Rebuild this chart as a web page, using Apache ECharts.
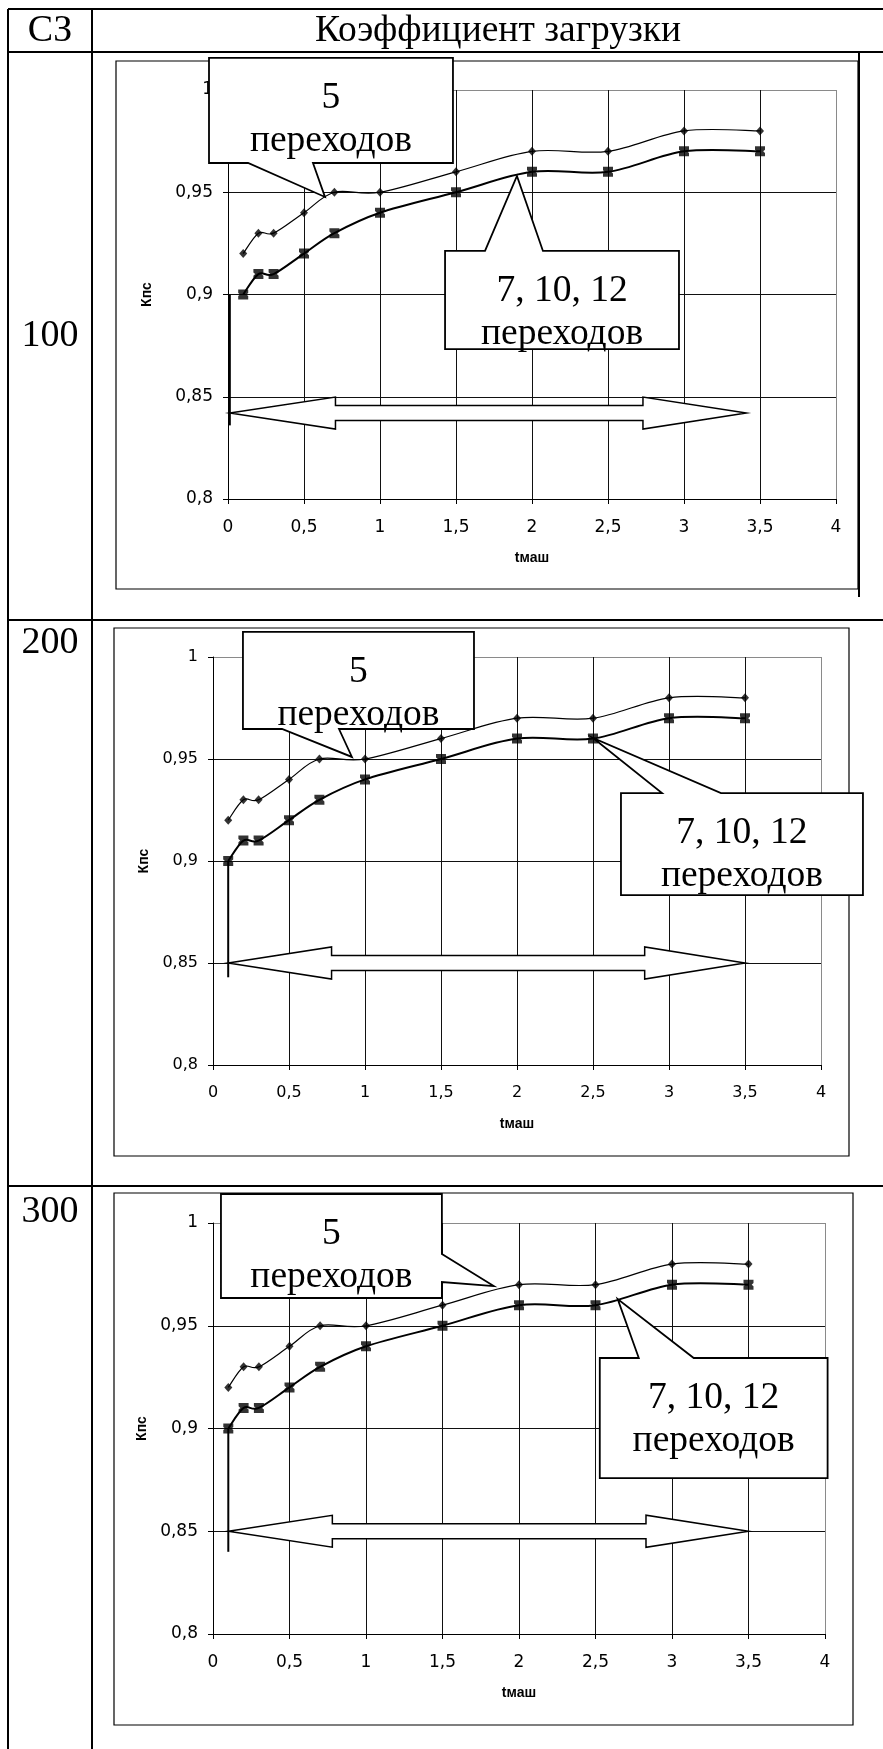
<!DOCTYPE html>
<html>
<head>
<meta charset="utf-8">
<script src="https://cdn.jsdelivr.net/npm/echarts@6/dist/echarts.min.js"></script>
<style>
  html, body { margin: 0; padding: 0; background: #fff; }
  #c { width: 883px; height: 1749px; }
</style>
</head>
<body>
<div id="c"></div>
<script>
// ---- data ----
const tValues = [0.1, 0.2, 0.3, 0.5, 0.7, 1, 1.5, 2, 2.5, 3, 3.5];
const k5 = [0.92, 0.93, 0.93, 0.94, 0.95, 0.95, 0.96, 0.97, 0.97, 0.98, 0.98];
const k7_10_12 = [0.90, 0.91, 0.91, 0.92, 0.93, 0.94, 0.95, 0.96, 0.96, 0.97, 0.97];
const rowLabels = ['100', '200', '300'];
const headerLabels = ['СЗ', 'Коэффициент загрузки'];
const xTickLabels = ['0', '0,5', '1', '1,5', '2', '2,5', '3', '3,5', '4'];
const yTickLabels = ['0,8', '0,85', '0,9', '0,95', '1'];
const calloutText5 = ['5', 'переходов'];
const calloutText7 = ['7, 10, 12', 'переходов'];

// ---- layout of the three panels (annotations are anchored in axis units) ----
const panels = [
  {
    grid: { left: 228, top: 90, width: 608, height: 409 },
    frame: [116, 61, 742, 528],
    labelSize: 17, yNameGap: 74,
    drop: [[0.012, 0.9], [0.012, 0.836]],
    arrow: [0.012, 0.842, 3.41, 0.707, 2.73],
    callouts: [
      { text: calloutText5, box: [-0.125, 1.0157, 1.48, 0.9643], edge: 'bottom', base: [0.132, 0.559], tip: [0.638, 0.9477] },
      { text: calloutText7, box: [1.428, 0.9213, 2.967, 0.8733], edge: 'top', base: [1.691, 2.072], tip: [1.901, 0.958] }
    ]
  },
  {
    grid: { left: 213, top: 657, width: 608, height: 408 },
    frame: [114, 628, 735, 528],
    labelSize: 16, yNameGap: 60,
    drop: [[0.1, 0.9], [0.1, 0.843]],
    arrow: [0.1, 0.85, 3.5, 0.78, 2.84],
    callouts: [
      { text: calloutText5, box: [0.197, 1.0123, 1.717, 0.9647], edge: 'bottom', base: [0.454, 0.829], tip: [0.914, 0.951] },
      { text: calloutText7, box: [2.684, 0.9333, 4.276, 0.8833], edge: 'top', base: [2.954, 3.342], tip: [2.5, 0.9603] }
    ]
  },
  {
    grid: { left: 213, top: 1223, width: 612, height: 411 },
    frame: [114, 1193, 739, 532],
    labelSize: 17, yNameGap: 63,
    drop: [[0.1, 0.9], [0.1, 0.84]],
    arrow: [0.1, 0.85, 3.5, 0.78, 2.83],
    callouts: [
      { text: calloutText5, box: [0.052, 1.0141, 1.496, 0.9635], edge: 'right', base: [0.9849, 0.9713], tip: [1.835, 0.9693] },
      { text: calloutText7, box: [2.528, 0.9343, 4.017, 0.8759], edge: 'top', base: [2.783, 3.142], tip: [2.645, 0.963] }
    ]
  }
];

const SERIF = '"Liberation Serif", "Times New Roman", serif';
const SANS = '"Liberation Sans", Arial, sans-serif';
const TICK_FONT = '"DejaVu Sans", Verdana, sans-serif';

// Excel-like square marker with small notches on the sides
const squareMarker = 'path://M0,0H10V3.4L8.2,5L10,6.6V10H0V6.6L1.8,5L0,3.4Z';

// Excel-style smoothed polyline (Catmull-Rom, tension 1/6) through pixel points
function smoothPath(pts) {
  let d = 'M' + pts[0][0] + ',' + pts[0][1];
  for (let i = 0; i < pts.length - 1; i++) {
    const p0 = pts[i - 1] || pts[i], p1 = pts[i], p2 = pts[i + 1], p3 = pts[i + 2] || pts[i + 1];
    const c1x = p1[0] + (p2[0] - p0[0]) / 6, c1y = p1[1] + (p2[1] - p0[1]) / 6;
    const c2x = p2[0] - (p3[0] - p1[0]) / 6, c2y = p2[1] - (p3[1] - p1[1]) / 6;
    d += 'C' + c1x + ',' + c1y + ',' + c2x + ',' + c2y + ',' + p2[0] + ',' + p2[1];
  }
  return d;
}

const grids = [], xAxes = [], yAxes = [], series = [], graphics = [];

panels.forEach((p, i) => {
  grids.push(Object.assign({ containLabel: false }, p.grid));

  const gridColorsX = xTickLabels.map((_, j) => j === xTickLabels.length - 1 ? '#8a8a8a' : '#111');
  const gridColorsY = yTickLabels.map((_, j) => j === yTickLabels.length - 1 ? '#8a8a8a' : '#111');

  xAxes.push({
    gridIndex: i, type: 'value', min: 0, max: 4, interval: 0.5,
    name: 'tмаш', nameLocation: 'middle', nameGap: 52,
    nameTextStyle: { fontFamily: SANS, fontWeight: 'bold', fontSize: 14, color: '#000' },
    axisLine: { show: true, onZero: false, lineStyle: { color: '#000', width: 1 } },
    axisTick: { show: true, length: 5, lineStyle: { color: '#000' } },
    axisLabel: {
      margin: 20, fontFamily: TICK_FONT, fontSize: p.labelSize, color: '#000',
      formatter: v => xTickLabels[Math.round(v / 0.5)]
    },
    splitLine: { show: true, showMinLine: true, showMaxLine: true, lineStyle: { color: gridColorsX, width: 1 } }
  });

  yAxes.push({
    gridIndex: i, type: 'value', min: 0.8, max: 1, interval: 0.05,
    name: 'Кпс', nameLocation: 'middle', nameGap: p.yNameGap, nameRotate: 90,
    nameTextStyle: { fontFamily: SANS, fontWeight: 'bold', fontSize: 14, color: '#000' },
    axisLine: { show: true, onZero: false, lineStyle: { color: '#000', width: 1 } },
    axisTick: { show: true, length: 5, lineStyle: { color: '#000' } },
    axisLabel: {
      margin: 15, fontFamily: TICK_FONT, fontSize: p.labelSize, color: '#000',
      formatter: v => yTickLabels[Math.round((v - 0.8) / 0.05)]
    },
    splitLine: { show: true, showMinLine: true, showMaxLine: true, lineStyle: { color: gridColorsY, width: 1 } }
  });

  // smoothed curves, drawn through the axes' own coordinate mapping
  [[k5, 1.2], [k7_10_12, 2]].forEach(([vals, w]) => {
    series.push({
      type: 'custom', xAxisIndex: i, yAxisIndex: i, z: 3, clip: false, silent: true,
      data: [[tValues[0], vals[0]]],
      renderItem: (params, api) => ({
        type: 'path',
        shape: { pathData: smoothPath(tValues.map((t, j) => api.coord([t, vals[j]]))) },
        style: { fill: 'none', stroke: '#000', lineWidth: w }
      })
    });
  });

  // markers: diamonds for 5 transitions, squares for 7, 10, 12
  series.push({
    type: 'scatter', xAxisIndex: i, yAxisIndex: i, z: 4,
    data: tValues.map((t, j) => [t, k5[j]]),
    symbol: 'diamond', symbolSize: [8, 9],
    itemStyle: { color: '#000' }
  });
  series.push({
    type: 'scatter', xAxisIndex: i, yAxisIndex: i, z: 4,
    data: tValues.map((t, j) => [t, k7_10_12[j]]),
    symbol: squareMarker, symbolSize: 10, symbolKeepAspect: true,
    itemStyle: { color: '#000' }
  });

  // drop line under the first point
  series.push({
    type: 'line', xAxisIndex: i, yAxisIndex: i, z: 3,
    data: p.drop, symbol: 'none',
    lineStyle: { color: '#000', width: 2 }
  });

  // double-headed block arrow over the time span
  series.push({
    type: 'custom', xAxisIndex: i, yAxisIndex: i, z: 4, clip: false,
    data: [p.arrow],
    renderItem: (params, api) => {
      const L = api.coord([api.value(0), api.value(1)]);
      const R = api.coord([api.value(2), api.value(1)]);
      const hl = api.coord([api.value(3), api.value(1)])[0];
      const hr = api.coord([api.value(4), api.value(1)])[0];
      const y = L[1], H = 16, S = 7.5;
      return {
        type: 'polygon',
        shape: { points: [[L[0], y], [hl, y - H], [hl, y - S], [hr, y - S], [hr, y - H], [R[0], y],
                          [hr, y + H], [hr, y + S], [hl, y + S], [hl, y + H]] },
        style: { fill: '#fff', stroke: '#000', lineWidth: 1.5 }
      };
    }
  });

  // callout boxes
  series.push({
    type: 'custom', xAxisIndex: i, yAxisIndex: i, z: 5, clip: false,
    data: p.callouts.map((c, k) => [c.tip[0], c.tip[1], k]),
    renderItem: (params, api) => {
      const c = p.callouts[api.value(2)];
      const tl = api.coord([c.box[0], c.box[1]]);
      const br = api.coord([c.box[2], c.box[3]]);
      const tip = api.coord([api.value(0), api.value(1)]);
      const x0 = tl[0], y0 = tl[1], x1 = br[0], y1 = br[1];
      let pts;
      if (c.edge === 'bottom') {
        const a = api.coord([c.base[0], c.box[3]])[0], b = api.coord([c.base[1], c.box[3]])[0];
        pts = [[x0, y0], [x1, y0], [x1, y1], [b, y1], tip, [a, y1], [x0, y1]];
      } else if (c.edge === 'top') {
        const a = api.coord([c.base[0], c.box[1]])[0], b = api.coord([c.base[1], c.box[1]])[0];
        pts = [[x0, y0], [a, y0], tip, [b, y0], [x1, y0], [x1, y1], [x0, y1]];
      } else {
        const a = api.coord([c.box[2], c.base[0]])[1], b = api.coord([c.box[2], c.base[1]])[1];
        pts = [[x0, y0], [x1, y0], [x1, a], tip, [x1, b], [x1, y1], [x0, y1]];
      }
      const cx = (x0 + x1) / 2;
      return {
        type: 'group',
        children: [
          { type: 'polygon', shape: { points: pts }, style: { fill: '#fff', stroke: '#000', lineWidth: 1.8 } },
          { type: 'text', style: { text: c.text[0], x: cx, y: y0 + 40, align: 'center', verticalAlign: 'middle',
              font: '37.5px ' + SERIF, fill: '#000' } },
          { type: 'text', style: { text: c.text[1], x: cx, y: y0 + 83, align: 'center', verticalAlign: 'middle',
              font: '37.5px ' + SERIF, fill: '#000' } }
        ]
      };
    }
  });

  // chart area frame
  graphics.push({
    type: 'rect', z: 1,
    shape: { x: p.frame[0], y: p.frame[1], width: p.frame[2], height: p.frame[3] },
    style: { fill: 'none', stroke: '#000', lineWidth: 1.2 }
  });
});

// ---- table ruling ----
const tableLines = [
  [8, 9, 883, 9], [8, 52, 883, 52], [8, 620, 883, 620], [8, 1186, 883, 1186],
  [8, 9, 8, 1749], [92, 9, 92, 1749], [859, 52, 859, 597]
];
tableLines.forEach(l => graphics.push({
  type: 'line', z: 1,
  shape: { x1: l[0], y1: l[1], x2: l[2], y2: l[3] },
  style: { stroke: '#000', lineWidth: 2 }
}));

const textAt = (text, x, y, size) => ({
  type: 'text', z: 1, x: x, y: y,
  style: { text: text, font: size + 'px ' + SERIF, fill: '#000', align: 'center', verticalAlign: 'middle' }
});
graphics.push(textAt(headerLabels[0], 50, 31, 38));
graphics.push(textAt(headerLabels[1], 498, 31, 37.5));
graphics.push(textAt(rowLabels[0], 50, 336, 38));
graphics.push(textAt(rowLabels[1], 50, 643, 38));
graphics.push(textAt(rowLabels[2], 50, 1212, 38));

const chart = echarts.init(document.getElementById('c'), null, { renderer: 'canvas' });
chart.setOption({
  animation: false,
  backgroundColor: '#fff',
  grid: grids,
  xAxis: xAxes,
  yAxis: yAxes,
  series: series,
  graphic: { elements: graphics }
});
</script>
</body>
</html>
